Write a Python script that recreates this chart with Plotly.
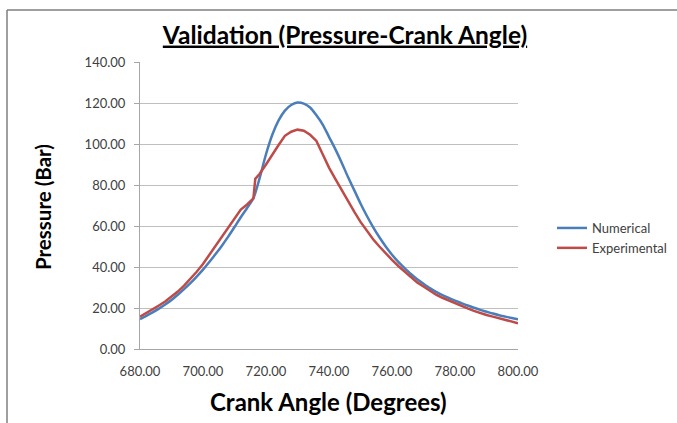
import plotly.graph_objects as go

# Numerical (blue)
num_angle = [680, 682, 684, 686, 688, 690, 692, 694, 696, 698, 700, 702, 704, 706, 708, 710,
             712, 714, 716, 718, 720, 722, 724, 726, 728, 730, 732, 734, 736, 738, 740, 742,
             744, 746, 748, 750, 752, 754, 756, 758, 760, 762, 764, 766, 768, 770, 772, 774,
             776, 778, 780, 782, 784, 786, 788, 790, 792, 794, 796, 798, 800]
num_pressure = [14.6, 16.2, 17.9, 19.7, 21.7, 23.9, 26.5, 29.2, 32.1, 35.3, 38.7, 42.4, 46.3, 50.4,
                54.8, 59.5, 64.3, 68.8, 73.5, 83.5, 95.0, 104.5, 111.5, 116.3, 119.0, 120.2, 119.7,
                117.8, 114.0, 109.5, 103.5, 97.5, 91.0, 84.0, 77.5, 71.0, 65.0, 59.5, 54.5, 50.0,
                46.0, 42.5, 39.5, 36.6, 34.0, 31.8, 29.7, 27.9, 26.3, 24.9, 23.6, 22.4, 21.2, 20.1,
                19.1, 18.2, 17.3, 16.5, 15.8, 15.1, 14.5]

# Experimental (red)
exp_angle = [680, 682, 684, 686, 688, 690, 692, 694, 696, 698, 700, 702, 704, 706, 708, 710,
             712, 714, 716, 716.6, 718, 720, 722, 724, 726, 728, 730, 732, 734, 736, 738, 740,
             742, 744, 746, 748, 750, 752, 754, 756, 758, 760, 762, 764, 766, 768, 770, 772,
             774, 776, 778, 780, 782, 784, 786, 788, 790, 792, 794, 796, 798, 800]
exp_pressure = [15.8, 17.5, 19.3, 21.2, 23.2, 25.5, 28.0, 30.9, 34.1, 37.7, 41.5, 46.0, 50.5, 54.8,
                59.3, 63.8, 68.0, 70.5, 73.5, 83.0, 85.5, 90.0, 95.0, 99.5, 104.0, 106.0, 107.0,
                106.5, 104.5, 101.5, 95.0, 88.5, 83.0, 77.5, 72.5, 67.0, 62.0, 57.5, 53.5, 50.0,
                46.5, 43.5, 40.5, 37.8, 35.0, 32.5, 30.5, 28.3, 26.5, 25.0, 23.6, 22.3, 21.0, 19.8,
                18.6, 17.5, 16.6, 15.8, 15.0, 14.2, 13.4, 12.6]

x_ticks = [680, 700, 720, 740, 760, 780, 800]
y_ticks = [0, 20, 40, 60, 80, 100, 120, 140]

W, H = 677, 423
L, R, T, B = 140, 518, 62, 349

def px(x):
    return (x - L) / (R - L)

def py(y):
    return (B - y) / (B - T)

fig = go.Figure()
fig.add_trace(go.Scatter(x=num_angle, y=num_pressure, mode="lines", name="Numerical",
                         line=dict(color="#4A7EBB", width=2.5, shape="spline", smoothing=0.8)))
fig.add_trace(go.Scatter(x=exp_angle, y=exp_pressure, mode="lines", name="Experimental",
                         line=dict(color="#BE4B48", width=2.5)))

fig.update_layout(
    width=W, height=H,
    margin=dict(l=L, r=W - R, t=T, b=H - B, autoexpand=False),
    paper_bgcolor="white", plot_bgcolor="white",
    font=dict(family="Lato, Carlito, sans-serif", color="#404040"),
    title=dict(text="<u><b>Validation (Pressure-Crank Angle)</b></u>",
               xref="container", x=345 / W, xanchor="center",
               yref="container", y=1 - 35 / H, yanchor="middle",
               font=dict(size=24.5, color="black", family="Lato, sans-serif")),
    xaxis=dict(range=[680, 800], tickvals=x_ticks, ticktext=[f"{v:.2f}" for v in x_ticks],
               showgrid=False, zeroline=False, showline=True, linecolor="#A6A6A6", linewidth=1,
               ticks="", ticklabelstandoff=10, automargin=False,
               tickfont=dict(size=13, color="#404040")),
    yaxis=dict(range=[0, 140], tickvals=y_ticks, ticktext=[f"{v:.2f}" for v in y_ticks],
               showgrid=True, gridcolor="#BFBFBF", gridwidth=1, zeroline=False,
               showline=True, linecolor="#A6A6A6", linewidth=1,
               ticks="outside", ticklen=5, tickcolor="#A6A6A6", ticklabelstandoff=6,
               automargin=False,
               tickfont=dict(size=13, color="#404040")),
    legend=dict(x=px(552), xanchor="left", y=py(238), yanchor="middle",
                font=dict(size=13, color="#404040"), bgcolor="rgba(0,0,0,0)",
                tracegroupgap=6),
    annotations=[
        dict(text="<b>Crank Angle (Degrees)</b>", xref="paper", yref="paper",
             x=px(328), y=py(401), xanchor="center", yanchor="middle", showarrow=False,
             font=dict(size=24, color="black")),
        dict(text="<b>Pressure (Bar)</b>", xref="paper", yref="paper",
             x=px(43), y=py(207), xanchor="center", yanchor="middle", showarrow=False,
             textangle=-90, font=dict(size=20.5, color="black")),
    ],
    shapes=[
        dict(type="line", xref="paper", yref="paper", x0=px(7), x1=px(677), y0=py(10), y1=py(10),
             line=dict(color="#7F7F7F", width=1.5)),
        dict(type="line", xref="paper", yref="paper", x0=px(7), x1=px(7), y0=py(10), y1=py(423),
             line=dict(color="#7F7F7F", width=1.5)),
    ],
)

fig.write_html("out.html", config={"displayModeBar": False},
               post_script="document.body.style.margin='0';document.body.style.overflow='hidden';")
